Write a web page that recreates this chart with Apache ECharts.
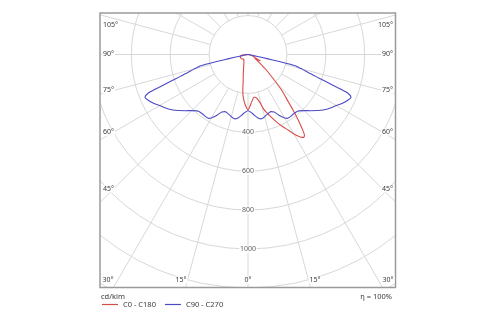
<!DOCTYPE html>
<html>
<head>
<meta charset="utf-8">
<script src="https://cdn.jsdelivr.net/npm/echarts@6/dist/echarts.min.js"></script>
<style>html,body{margin:0;padding:0;background:#fff}#c{width:500px;height:325px}</style>
</head>
<body>
<div id="c"></div>
<script>
// ---- data (gamma in degrees, intensity in cd/klm) ----
const blueGamma = [0, 3, 6, 9, 11.5, 14, 17, 20, 22, 24.5, 27, 29.5, 31.5, 34, 37, 40, 42, 45, 48, 51, 54, 57, 60, 62.5, 65, 67.5, 69, 70, 71, 72, 73, 74, 75, 76, 76.5, 77, 77.5, 78, 79, 80, 85, 90];
const blueValues = [289, 298, 314, 330, 338, 334, 325, 318, 317, 325, 350, 372, 385, 387, 385, 386, 390, 408, 432, 458, 484, 505, 525, 545, 562, 573, 545, 470, 415, 368, 335, 305, 285, 262, 254, 200, 130, 70, 30, 15, 4, 0];

const redC0Gamma = [0, 2, 4, 6, 8, 9.5, 11, 12, 14, 16, 18, 20, 23.5, 26, 28, 30, 31.5, 33, 34, 35, 36, 37, 38, 39, 40.5, 42, 43.5, 45, 47, 50, 52.5, 55, 58, 60, 63, 66, 70, 75, 80, 85, 90];
const redC0Values = [285, 268, 248, 232, 222, 223, 228, 233, 255, 292, 315, 340, 385, 415, 440, 470, 492, 508, 514, 506, 476, 441, 405, 370, 317, 283, 248, 207, 164, 120, 86, 65, 50, 40, 72, 40, 30, 20, 12, 5, 0];

const redC180Gamma = [0, 2, 4, 6, 7, 8.5, 10, 12, 14, 16, 18, 22, 26, 32, 40, 50, 59, 65, 70, 75, 80, 84, 87, 90];
const redC180Values = [285, 270, 250, 226, 211, 180, 143, 118, 100, 85, 73, 58, 48, 40, 33, 36, 40, 42, 42, 40, 38, 28, 14, 0];

const radiusTicks = [400, 600, 800, 1000];
const sideAngleLabels = ['105°', '90°', '75°', '60°', '45°'];
const bottomAngleLabels = ['30°', '15°', '0°', '15°', '30°'];
const seriesNames = ['C0 - C180', 'C90 - C270'];

// ---- layout ----
const FONT = '"Noto Sans", "Liberation Sans", sans-serif';
const CENTER = [248, 54.5];
const R_OUT = 311.2, R_IN = 38.9;
const FRAME = {x: 100, y: 13, w: 295.5, h: 274.5};
const sideY = [25, 54, 90, 132, 189];
const bottomX = [108, 181, 248, 315, 388];
const bottomY = 280;

// build series data [radius, angle]; C180 / C270 on the left (negative angle)
const redData = [];
for (let i = redC180Gamma.length - 1; i >= 0; i--) redData.push([redC180Values[i], -redC180Gamma[i]]);
for (let i = 1; i < redC0Gamma.length; i++) redData.push([redC0Values[i], redC0Gamma[i]]);
const blueData = [];
for (let i = blueGamma.length - 1; i >= 0; i--) blueData.push([blueValues[i], -blueGamma[i]]);
for (let i = 1; i < blueGamma.length; i++) blueData.push([blueValues[i], blueGamma[i]]);

const angleBase = {type: 'value', min: -180, max: 180, interval: 15, startAngle: 90, clockwise: false,
  axisLine: {show: false}, axisTick: {show: false}, axisLabel: {show: false}};

const gridColor = '#d8d8d8';
const textColor = '#3a3a3a';
const RED = '#d94b4b', BLUE = '#4b4bc4';

const graphics = [];
// masks outside frame
graphics.push({type: 'rect', z: 100, silent: true, shape: {x: 0, y: 0, width: 500, height: FRAME.y}, style: {fill: '#fff'}});
graphics.push({type: 'rect', z: 100, silent: true, shape: {x: 0, y: FRAME.y + FRAME.h, width: 500, height: 325}, style: {fill: '#fff'}});
graphics.push({type: 'rect', z: 100, silent: true, shape: {x: 0, y: 0, width: FRAME.x, height: 325}, style: {fill: '#fff'}});
graphics.push({type: 'rect', z: 100, silent: true, shape: {x: FRAME.x + FRAME.w, y: 0, width: 200, height: 325}, style: {fill: '#fff'}});
// frame
graphics.push({type: 'rect', z: 150, silent: true, shape: {x: FRAME.x, y: FRAME.y, width: FRAME.w, height: FRAME.h}, style: {fill: 'none', stroke: '#9a9a9a', lineWidth: 1.5}});
// angle labels
sideAngleLabels.forEach((t, i) => {
  graphics.push({type: 'text', z: 160, style: {text: t, x: 102, y: sideY[i], align: 'left', verticalAlign: 'middle', font: '7px ' + FONT, fill: textColor, backgroundColor: '#fff', padding: [0, 1]}});
  graphics.push({type: 'text', z: 160, style: {text: t, x: 394, y: sideY[i], align: 'right', verticalAlign: 'middle', font: '7px ' + FONT, fill: textColor, backgroundColor: '#fff', padding: [0, 1]}});
});
bottomAngleLabels.forEach((t, i) => {
  graphics.push({type: 'text', z: 160, style: {text: t, x: bottomX[i], y: bottomY, align: 'center', verticalAlign: 'middle', font: '7px ' + FONT, fill: textColor, backgroundColor: '#fff', padding: [0, 1]}});
});
graphics.push({type: 'text', z: 160, style: {text: 'cd/klm', x: 101, y: 297, align: 'left', verticalAlign: 'middle', font: '7.5px ' + FONT, fill: textColor}});
graphics.push({type: 'text', z: 160, style: {text: 'η = 100%', x: 392, y: 297, align: 'right', verticalAlign: 'middle', font: '7.5px ' + FONT, fill: textColor}});

const chart = echarts.init(document.getElementById('c'), null, {renderer: 'canvas'});
chart.setOption({
  animation: false,
  backgroundColor: '#fff',
  polar: [
    {center: CENTER, radius: [R_IN, R_OUT]},
    {center: CENTER, radius: [0, R_OUT]}
  ],
  angleAxis: [
    Object.assign({polarIndex: 0, splitLine: {show: true, lineStyle: {color: gridColor, width: 1}}}, angleBase),
    Object.assign({polarIndex: 1, splitLine: {show: false}}, angleBase)
  ],
  radiusAxis: [
    {polarIndex: 0, min: 200, max: 1600, interval: 200, axisLine: {show: false}, axisTick: {show: false}, axisLabel: {show: false},
     splitLine: {show: true, lineStyle: {color: gridColor, width: 1}}},
    {polarIndex: 1, min: 0, max: 1600, interval: 200, axisLine: {show: false}, axisTick: {show: false}, axisLabel: {show: false}, splitLine: {show: false}}
  ],
  legend: {
    data: seriesNames, left: 102, top: 300.5, z: 200, padding: 0, itemGap: 9, itemWidth: 16, itemHeight: 1.2, icon: 'rect',
    textStyle: {fontSize: 7.5, color: textColor, fontFamily: FONT}
  },
  series: [
    {name: seriesNames[0], type: 'line', coordinateSystem: 'polar', polarIndex: 1, data: redData, symbol: 'none', smooth: 0.25, z: 5,
     lineStyle: {color: RED, width: 1.1}, itemStyle: {color: RED}},
    {name: seriesNames[1], type: 'line', coordinateSystem: 'polar', polarIndex: 1, data: blueData, symbol: 'none', smooth: 0.25, z: 5,
     lineStyle: {color: BLUE, width: 1.1}, itemStyle: {color: BLUE}},
    {type: 'scatter', coordinateSystem: 'polar', polarIndex: 1, data: radiusTicks.map(v => [v, 0]), symbolSize: 1, z: 6,
     itemStyle: {color: 'rgba(0,0,0,0)'}, silent: true, legendHoverLink: false,
     label: {show: true, position: 'inside', formatter: p => String(p.value[0]), fontSize: 7, fontFamily: FONT, color: textColor, backgroundColor: '#fff', padding: [0, 1]}}
  ],
  graphic: {elements: graphics}
});
</script>
</body>
</html>
